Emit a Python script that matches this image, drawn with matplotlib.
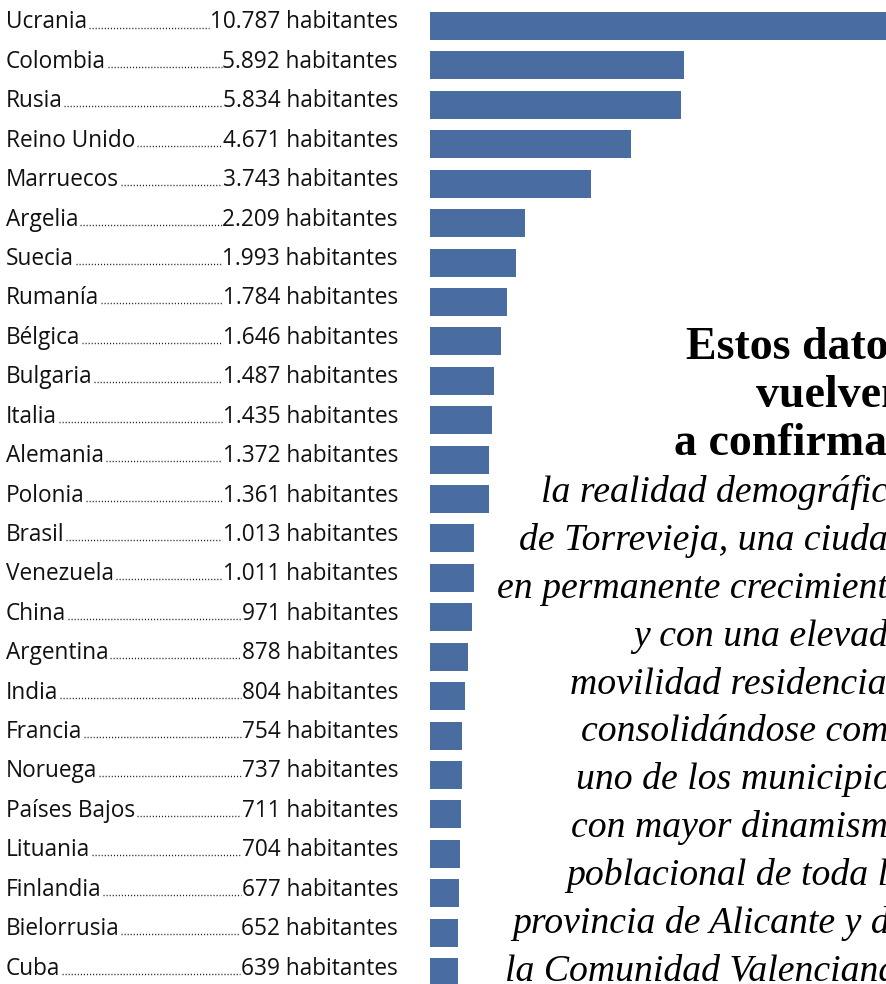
import matplotlib
matplotlib.use("Agg")
import matplotlib.pyplot as plt
from matplotlib.lines import Line2D

countries = ["Ucrania", "Colombia", "Rusia", "Reino Unido", "Marruecos", "Argelia",
             "Suecia", "Rumanía", "Bélgica", "Bulgaria", "Italia", "Alemania", "Polonia",
             "Brasil", "Venezuela", "China", "Argentina", "India", "Francia", "Noruega",
             "Países Bajos", "Lituania", "Finlandia", "Bielorrusia", "Cuba"]
values = [10787, 5892, 5834, 4671, 3743, 2209, 1993, 1784, 1646, 1487, 1435, 1372, 1361,
          1013, 1011, 971, 878, 804, 754, 737, 711, 704, 677, 652, 639]
unit = "habitantes"

title_lines = ["Estos datos", "vuelven", "a confirmar"]
body_lines = ["la realidad demográfica", "de Torrevieja, una ciudad",
              "en permanente crecimiento", "y con una elevada",
              "movilidad residencial,", "consolidándose como",
              "uno de los municipios", "con mayor dinamismo",
              "poblacional de toda la", "provincia de Alicante y de",
              "la Comunidad Valenciana."]

W, H, DPI = 886, 984, 100
fig = plt.figure(figsize=(W / DPI, H / DPI), dpi=DPI)
fig.patch.set_facecolor("white")

bar_color = "#4a6da1"
n = len(countries)
bar_top_px, step_px = 26.0, 39.42
y_top = -bar_top_px / step_px
y_bot = (H - bar_top_px) / step_px
ax = fig.add_axes([430 / W, 0, 1 - 430 / W, 1])
ax.barh(range(n), values, height=0.71, color=bar_color)
ax.set_ylim(y_bot, y_top)
ax.set_xlim(0, 456 / 0.0431)
ax.axis("off")

text_base_px = 28.5

def fig_y(px_from_top):
    return 1 - px_from_top / H

label_font = dict(family="Open Sans", size=16.3, color="#111111")
renderer = fig.canvas.get_renderer()
for i, (c, v) in enumerate(zip(countries, values)):
    yb_px = text_base_px + step_px * i
    yc = fig_y(yb_px)
    t1 = fig.text(6 / W, yc, c, ha="left", va="baseline", **label_font)
    vs = f"{v:,}".replace(",", ".") + " " + unit
    t2 = fig.text(398 / W, yc, vs, ha="right", va="baseline", **label_font)
    b1 = t1.get_window_extent(renderer)
    b2 = t2.get_window_extent(renderer)
    x0 = (b1.x1 + 1.5) / W
    x1 = (b2.x0 - 1.0) / W
    yb = fig_y(yb_px - 1.0)
    fig.add_artist(Line2D([x0, x1], [yb, yb], transform=fig.transFigure,
                          color="#222222", linewidth=1.0,
                          linestyle=(0, (0.8, 1.4))))

right_x = 907 / W
base0, line_step = 359, 47.8
for k, s in enumerate(title_lines):
    fig.text(right_x, fig_y(base0 + line_step * k), s, ha="right", va="baseline",
             family="Liberation Serif", weight="bold", size=33, color="black")
for k, s in enumerate(body_lines):
    fig.text(right_x, fig_y(base0 + line_step * (k + 3)), s, ha="right", va="baseline",
             family="Liberation Serif", style="italic", size=27.2, color="black")

fig.savefig("out.png", dpi=DPI, facecolor="white")
